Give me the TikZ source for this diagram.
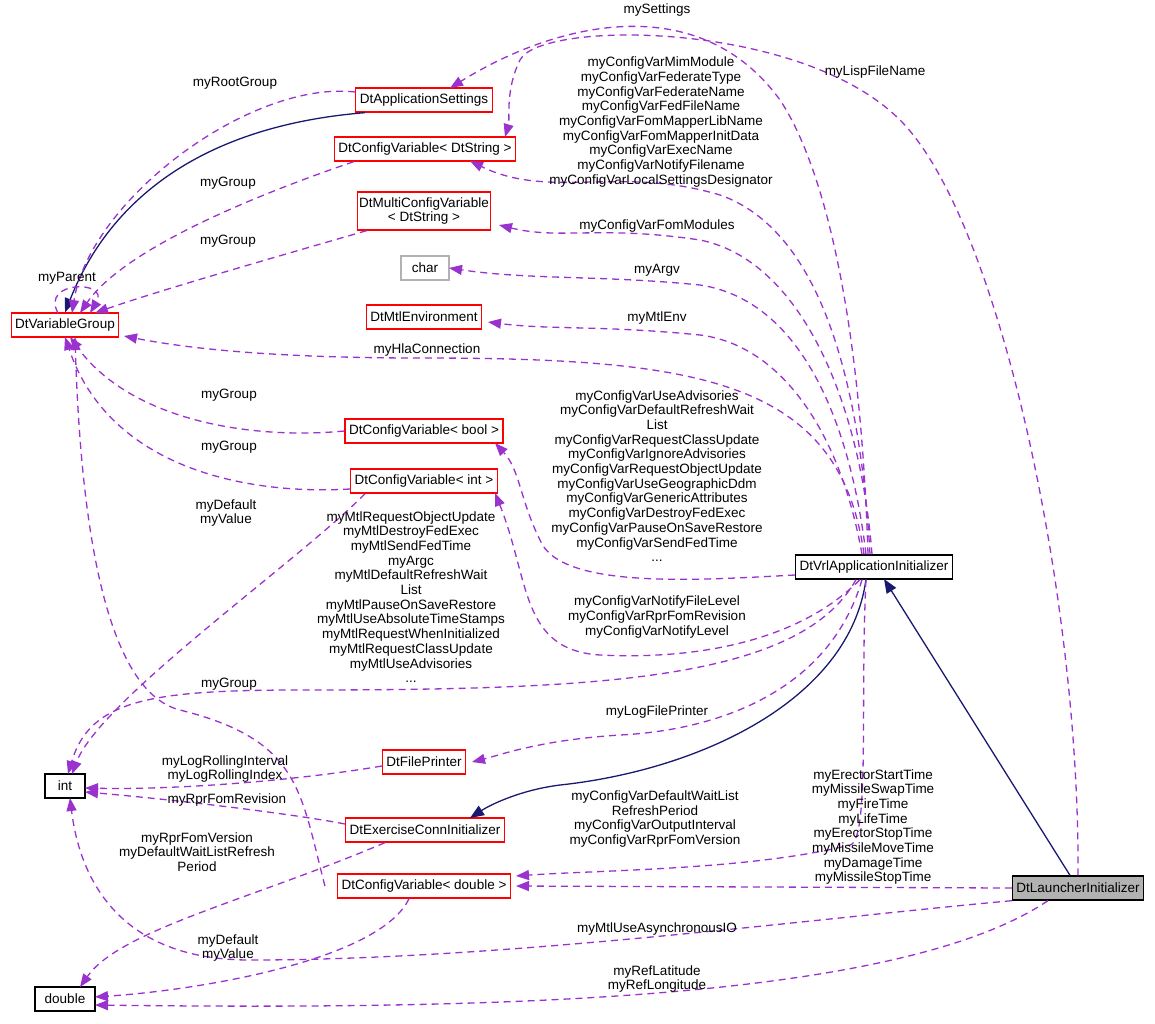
\documentclass[tikz,border=0pt]{standalone}
\usepackage{fontspec}
\setmainfont{Liberation Sans}
\usetikzlibrary{arrows.meta}
\definecolor{pu}{HTML}{9A32CD}
\definecolor{nv}{HTML}{191970}
\begin{document}
\begin{tikzpicture}[x=1pt,y=-1pt,font=\fontsize{13.5}{14.7}\selectfont,
 box/.style={draw=red,line width=1.3pt,fill=white,inner sep=4pt,minimum height=24pt,align=center},
 gbox/.style={box,draw=black!30},
 bbox/.style={box,draw=black},
 dep/.style={draw=pu,dash pattern=on 7pt off 5pt,line width=1.3pt,-{Triangle[length=13pt,width=10pt]}},
 inh/.style={draw=nv,line width=1.3pt,-{Triangle[length=14pt,width=11pt,fill=nv]}},
 lab/.style={align=center,inner sep=0pt}]
\useasboundingbox (0,0) rectangle (1155,1023);
\node[box] (as) at (424,100) {DtApplicationSettings};
\node[box] (cs) at (425,149) {DtConfigVariable< DtString >};
\node[box,inner sep=2pt,minimum height=38pt] (mc) at (424,211) {DtMultiConfigVariable\\< DtString >};
\node[gbox,minimum width=48pt] (ch) at (425,268) {char};
\node[box] (me) at (424,317) {DtMtlEnvironment};
\node[box] (vg) at (65,325) {DtVariableGroup};
\node[box] (cb) at (424,431) {DtConfigVariable< bool >};
\node[box] (ci) at (424,481) {DtConfigVariable< int >};
\node[bbox] (vrl) at (874,567) {DtVrlApplicationInitializer};
\node[bbox,minimum width=40pt] (int) at (65,786) {int};
\node[box] (fp) at (424,762) {DtFilePrinter};
\node[box] (ec) at (425,830) {DtExerciseConnInitializer};
\node[box] (cd) at (424,886) {DtConfigVariable< double >};
\node[bbox,fill=black!30] (li) at (1078,888) {DtLauncherInitializer};
\node[bbox,minimum width=60pt] (db) at (65,999) {double};

% inheritance
\draw[inh] (as.south west) ++(10,0) .. controls (150,130) and (90,250) .. (vg.north);
\draw[inh] (li.north) ++(-8,0) -- (884,579);
\draw[inh] (866,579) .. controls (850,700) and (700,770) .. (560,785) .. controls (520,790) and (490,805) .. (470,818);

% dependencies
\draw[dep] (as.west) ++(0,-8) .. controls (250,80) and (90,200) .. (72,313);
\node[lab] at (235,83) {myRootGroup};
\draw[dep] (cs.south west) ++(20,0) .. controls (300,180) and (130,240) .. (80,313);
\node[lab] at (228,183) {myGroup};
\draw[dep] (mc.south west) ++(10,0) .. controls (300,250) and (160,290) .. (95,313);
\node[lab] at (228,241) {myGroup};
\draw[dep] (58,313) .. controls (40,280) and (110,280) .. (90,313);
\node[lab] at (67,278) {myParent};
\draw[dep] (vrl.north) ++(-10,0) .. controls (840,380) and (700,358) .. (420,358) .. controls (250,358) and (170,345) .. (124,336);
\node[lab] at (427,350) {myHlaConnection};
\draw[dep] (cb.west) .. controls (250,440) and (130,420) .. (70,337);
\node[lab] at (229,395) {myGroup};
\draw[dep] (ci.west) ++(0,8) .. controls (250,495) and (110,470) .. (65,337);
\node[lab] at (229,447) {myGroup};
\draw[dep] (cd.west) ++(-12,0) .. controls (300,790) and (300,740) .. (180,710) .. controls (100,690) and (80,500) .. (75,337);
\node[lab] at (229,684) {myGroup};
\draw[dep] (ci.south west) ++(15,0) .. controls (300,560) and (100,700) .. (72,774);
\node[lab] at (226,513) {myDefault\\myValue};

\draw[dep] (vrl.north) ++(-6,0) .. controls (860,300) and (820,160) .. (780,100) .. controls (700,-10) and (560,20) .. (450,88);
\node[lab] at (657,10) {mySettings};
\draw[dep] (li.north) .. controls (1080,600) and (1000,220) .. (900,120) .. controls (800,20) and (540,20) .. (520,60) .. controls (505,90) and (510,120) .. (505,137);
\node[lab] at (875,72) {myLispFileName};
\draw[dep] (vrl.north) ++(-4,0) .. controls (860,380) and (820,230) .. (720,195) .. controls (620,165) and (550,200) .. (470,161);
\node[lab] at (661,122) {myConfigVarMimModule\\myConfigVarFederateType\\myConfigVarFederateName\\myConfigVarFedFileName\\myConfigVarFomMapperLibName\\myConfigVarFomMapperInitData\\myConfigVarExecName\\myConfigVarNotifyFilename\\myConfigVarLocalSettingsDesignator};
\draw[dep] (vrl.north) ++(-2,0) .. controls (860,400) and (800,260) .. (700,240) .. controls (600,225) and (560,240) .. (499,225);
\node[lab] at (657,226) {myConfigVarFomModules};
\draw[dep] (vrl.north) ++(-8,0) .. controls (850,420) and (800,300) .. (700,285) .. controls (600,275) and (530,280) .. (449,268);
\node[lab] at (657,270) {myArgv};
\draw[dep] (vrl.north) ++(-12,0) .. controls (840,430) and (780,345) .. (700,335) .. controls (600,325) and (550,330) .. (488,322);
\node[lab] at (657,318) {myMtlEnv};
\draw[dep] (vrl.west) ++(0,8) .. controls (700,580) and (560,590) .. (540,540) .. controls (520,500) and (520,470) .. (495,443);
\node[lab] at (657,476) {myConfigVarUseAdvisories\\myConfigVarDefaultRefreshWait\\List\\myConfigVarRequestClassUpdate\\myConfigVarIgnoreAdvisories\\myConfigVarRequestObjectUpdate\\myConfigVarUseGeographicDdm\\myConfigVarGenericAttributes\\myConfigVarDestroyFedExec\\myConfigVarPauseOnSaveRestore\\myConfigVarSendFedTime\\...};
\draw[dep] (vrl.south) ++(-14,0) .. controls (800,640) and (700,660) .. (600,655) .. controls (520,650) and (530,580) .. (495,493);
\node[lab] at (657,617) {myConfigVarNotifyFileLevel\\myConfigVarRprFomRevision\\myConfigVarNotifyLevel};
\draw[dep] (vrl.south) ++(-18,0) .. controls (800,680) and (600,690) .. (300,690) .. controls (150,690) and (90,700) .. (68,774);
\node[lab] at (411,597) {myMtlRequestObjectUpdate\\myMtlDestroyFedExec\\myMtlSendFedTime\\myArgc\\myMtlDefaultRefreshWait\\List\\myMtlPauseOnSaveRestore\\myMtlUseAbsoluteTimeStamps\\myMtlRequestWhenInitialized\\myMtlRequestClassUpdate\\myMtlUseAdvisories\\...};
\draw[dep] (vrl.south) ++(-12,0) .. controls (830,690) and (720,730) .. (620,735) .. controls (540,740) and (500,755) .. (472,762);
\node[lab] at (657,712) {myLogFilePrinter};
\draw[dep] (fp.west) ++(0,4) .. controls (300,780) and (180,790) .. (85,788);
\node[lab] at (225,769) {myLogRollingInterval\\myLogRollingIndex};
\draw[dep] (ec.west) ++(0,-6) .. controls (300,815) and (180,800) .. (85,792);
\node[lab] at (227,800) {myRprFomRevision};
\draw[dep] (ec.south west) ++(40,0) .. controls (250,900) and (120,930) .. (80,987);
\node[lab] at (197,852) {myRprFomVersion\\myDefaultWaitListRefresh\\Period};
\draw[dep] (vrl.south) ++(-8,0) .. controls (860,700) and (870,840) .. (850,845) .. controls (750,870) and (600,870) .. (516,876);
\node[lab] at (655,819) {myConfigVarDefaultWaitList\\RefreshPeriod\\myConfigVarOutputInterval\\myConfigVarRprFomVersion};
\draw[dep] (li.west) -- (516,886);
\node[lab] at (873,827) {myErectorStartTime\\myMissileSwapTime\\myFireTime\\myLifeTime\\myErectorStopTime\\myMissileMoveTime\\myDamageTime\\myMissileStopTime};
\draw[dep] (li.south west) .. controls (800,920) and (500,960) .. (250,960) .. controls (120,960) and (80,880) .. (70,798);
\node[lab] at (657,929) {myMtlUseAsynchronousIO};
\draw[dep] (cd.south) ++(-15,0) .. controls (380,960) and (200,990) .. (95,997);
\node[lab] at (228,948) {myDefault\\myValue};
\draw[dep] (li.south) ++(-30,0) .. controls (900,1000) and (500,1010) .. (95,1005);
\node[lab] at (657,979) {myRefLatitude\\myRefLongitude};
\end{tikzpicture}
\end{document}
